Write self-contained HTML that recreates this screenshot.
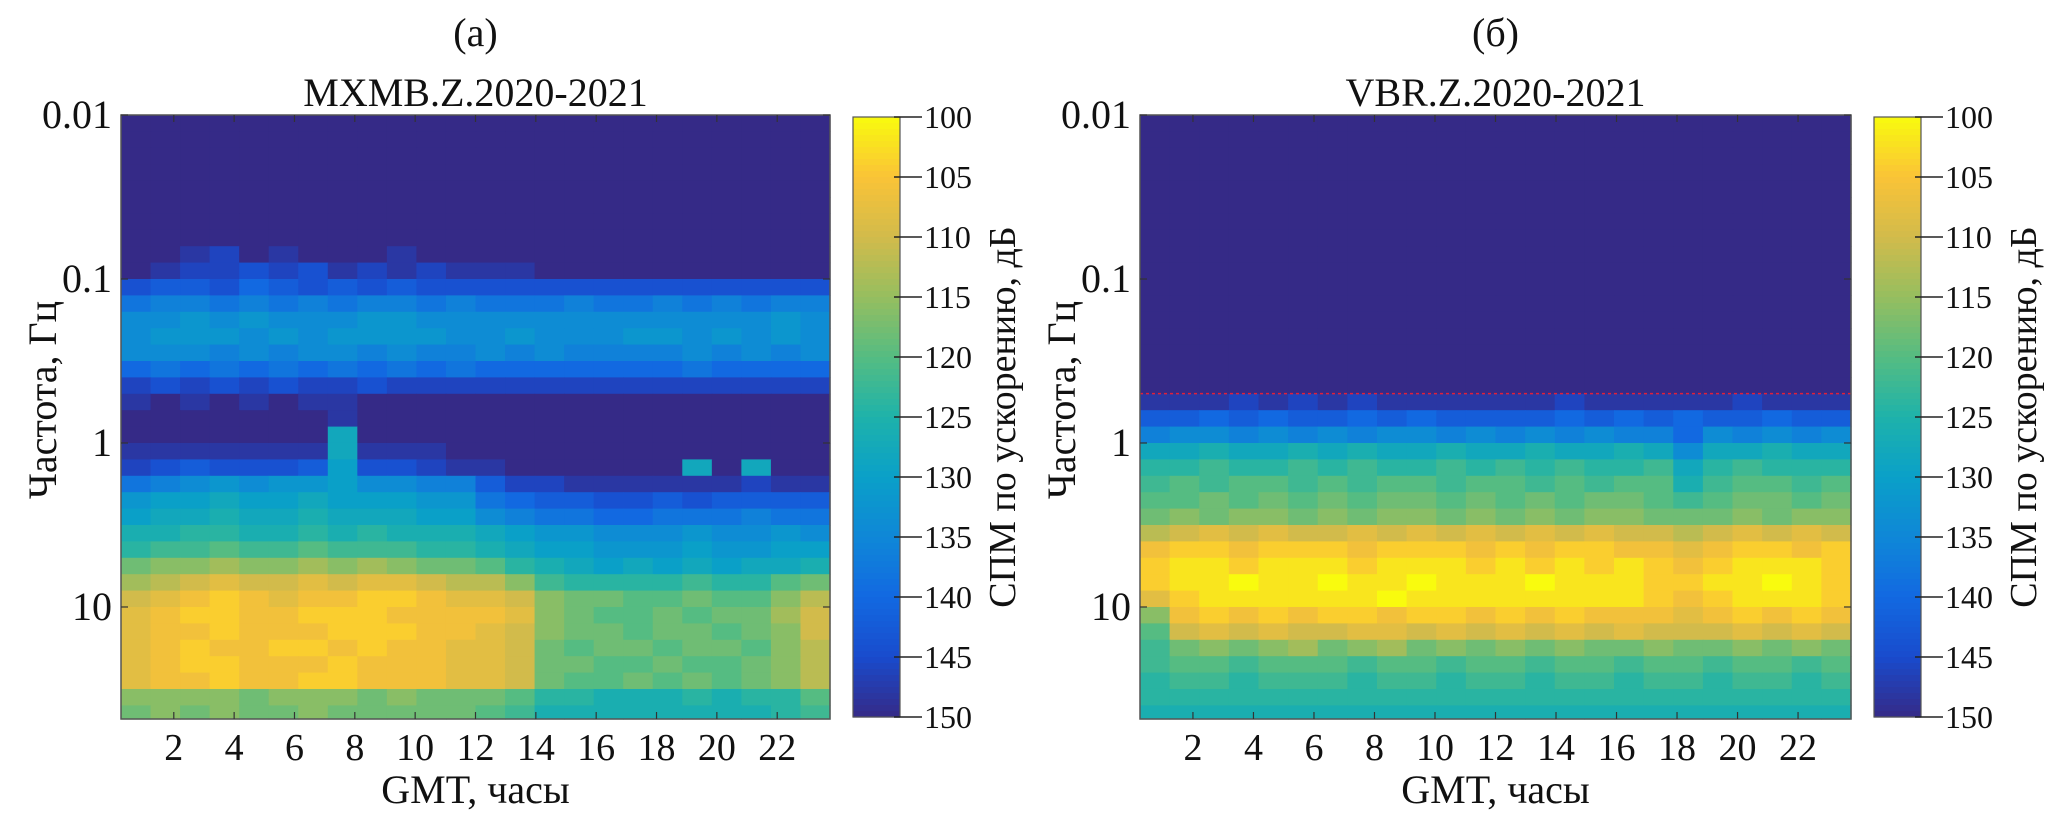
<!DOCTYPE html>
<html><head><meta charset="utf-8"><style>
html,body{margin:0;padding:0;background:#fff;}
svg{display:block;font-family:"Liberation Serif",serif;}
</style></head><body>
<svg id="fig" width="2055" height="827" viewBox="0 0 2055 827" xmlns="http://www.w3.org/2000/svg">
<g id="left"></g>
<g id="right"></g>
</svg>
<script>
// ---- data (dB = -150 + 2*k, k: 0-9 then A-P) ; rows top (0.01 Hz) to bottom, each row 0.1 decade; 24 hourly columns
const leftTitle = "MXMB.Z.2020-2021";
const rightTitle = "VBR.Z.2020-2021";
const xTicks = [2,4,6,8,10,12,14,16,18,20,22];
const yTicks = [0.01,0.1,1,10];
const yTickLabels = ["0.01","0.1","1","10"];
const cbTicks = [-100,-105,-110,-115,-120,-125,-130,-135,-140,-145,-150];
const redLineFreq = 0.5;
const leftRows = [
"000000 000000 000000 000000","000000 000000 000000 000000","000000 000000 000000 000000",
"000000 000000 000000 000000","000000 000000 000000 000000","000000 000000 000000 000000",
"000000 000000 000000 000000","000000 000000 000000 000000",
"001201 000100 000000 000000",
"012232 312121 110000 000000",
"344354 343433 333333 333333",
"677676 767767 666766 767677",
"889898 889988 888888 888898",
"899989 899998 898889 989898",
"888787 887877 878777 787878",
"565656 565656 555555 565555",
"232323 223222 222222 222222",
"101010 110000 000000 000000",
"000000 010000 000000 000000",
"000000 0B0000 000000 000000",
"111111 1B1110 000000 000000",
"234333 4A3321 100000 0B0B00",
"678989 9A8877 422111 111211",
"9AABAA BAAA99 654433 434444",
"ABBCBB CBBBAA 876655 666766",
"CCDDCC DCDCCC BA9988 898898",
"DEEFEE FEEEDD CBAA99 9A99AA",
"GHHIHH IHIHGG FDCBAB ABABBC",
"IJKLKK LKLLKJ JHEDDD DEDDFG",
"KLMNML MMNNML LKHGGF FGFFHJ",
"LMNNMM NNNMMM MLHGFF GFGGIK",
"LMMNMM MNNNMM LKHGGF GGFGHK",
"LMNMMN NMNMML LKGFGG FGGFHJ",
"LMNNMM MNMMML LKGGFF GFFGHJ",
"LMMNMM NNMMML LKGFFG FGFGHJ",
"HHHHGH HHGHGG GFDDCC CDCDDF",
"GHGHGG HGGGGG FECCCC CCCCDE"
];
const rightRows = [
"000000 000000 000000 000000","000000 000000 000000 000000","000000 000000 000000 000000",
"000000 000000 000000 000000","000000 000000 000000 000000","000000 000000 000000 000000",
"000000 000000 000000 000000","000000 000000 000000 000000","000000 000000 000000 000000",
"000000 000000 000000 000000","000000 000000 000000 000000","000000 000000 000000 000000",
"000000 000000 000000 000000","000000 000000 000000 000000","000000 000000 000000 000000",
"000000 000000 000000 000000","000000 000000 000000 000000",
"111212 121111 112111 112111",
"445454 454544 445454 544544",
"788787 878878 787877 587878",
"BBCBBC BCBBCB BCBBCB 8BBCBB",
"DDEDDE DEDDED EDEDDE BDEDDD",
"EFEFFE FEFFEF FEFEFF CEFFEF",
"FFGFGF GFGGFG FGFGGF EFGGFG",
"GHGHHG HGHHGH GHGHHG GGHGHH",
"JKLKLK KLKLKL KLKLKK JKLKLK",
"MNNMNN NMNNNM NMNNMM LMNNMN",
"NOONOO ONOOON ONONON MNOOON",
"NOOPOO POOPOO OPOOON NOOPON",
"LNOOOO OOPOOO OOOOON MNOOON",
"HMNMNM NNMNNM NMNMMM LMNMNM",
"FKLKLK KLLKLK LKLKLK KKLKLK",
"EGHGHI GHIGHG HGHGGH GGHGHG",
"EFFEFF FEFFEF FEFFEF FEFFEF",
"DEEDEE EDEEDE EDEEDE EDEEDE",
"DDDDDD DDDDDD DDDDDD DDDDDD",
"CCCCCC CCCCCC CCCCCC CCCCCC"
];

// ---- layout
const NS = "http://www.w3.org/2000/svg";
const AX_TOP = 115, AX_BOT = 719, X0H = 0.25, X1H = 23.75, LOGMIN = -2, LOGMAX = 1.683;
const stops = [[0,53,42,135],[0.1,25,75,205],[0.2,18,105,225],[0.3,15,135,215],[0.4,10,160,200],[0.5,30,178,170],[0.6,85,188,130],[0.7,150,190,95],[0.8,210,187,75],[0.9,250,195,55],[1,249,251,14]];
function parula(t){t=Math.max(0,Math.min(1,t));for(let i=1;i<stops.length;i++){if(t<=stops[i][0]){const a=stops[i-1],b=stops[i],u=(t-a[0])/(b[0]-a[0]);return `rgb(${Math.round(a[1]+(b[1]-a[1])*u)},${Math.round(a[2]+(b[2]-a[2])*u)},${Math.round(a[3]+(b[3]-a[3])*u)})`;}}return "rgb(249,251,14)";}
const CODES="0123456789ABCDEFGHIJKLMNOP";
function decode(ch){return -150+2*CODES.indexOf(ch);}
function mk(tag,attrs,parent){const e=document.createElementNS(NS,tag);for(const k in attrs)e.setAttribute(k,attrs[k]);parent.appendChild(e);return e;}

function panel(g, ox, ow, cbx, rows, title, letter, hasRed){
  const xs = h => ox + (h-X0H)/(X1H-X0H)*ow;
  const ys = f => AX_TOP + (Math.log10(f)-LOGMIN)/(LOGMAX-LOGMIN)*(AX_BOT-AX_TOP);
  const ysLog = l => AX_TOP + (l-LOGMIN)/(LOGMAX-LOGMIN)*(AX_BOT-AX_TOP);
  const hm = mk("g",{},g);
  
  
  rows.forEach((rs,r)=>{
    const cells = rs.replace(/\s/g,'');
    const yA = ysLog(LOGMIN+0.1*r), yB = Math.min(AX_BOT, ysLog(LOGMIN+0.1*(r+1)));
    for(let c=0;c<cells.length;c++){
      const h0 = X0H + c*(X1H-X0H)/cells.length, h1 = X0H + (c+1)*(X1H-X0H)/cells.length;
      const v = decode(cells[c]);
      const x0 = xs(h0), x1 = xs(h1);
      const rc = mk("rect",{x:x0.toFixed(2),y:yA.toFixed(2),width:(x1-x0+0.6).toFixed(2),height:(yB-yA+0.6).toFixed(2),fill:parula((v+150)/50)},hm);
      
      
    }
  });
  if(hasRed){
    const ln = mk("line",{x1:ox,x2:ox+ow,y1:ys(redLineFreq),y2:ys(redLineFreq),stroke:"#e0203a","stroke-width":1.5,"stroke-dasharray":"3,3"},g);
    
    
  }
  const box = mk("rect",{x:ox,y:AX_TOP,width:ow,height:AX_BOT-AX_TOP,fill:"none",stroke:"#555","stroke-width":1.5},g);
  
  
  xTicks.forEach(t=>{
    const x=xs(t);
    mk("line",{x1:x,x2:x,y1:AX_BOT,y2:AX_BOT-7,stroke:"#333","stroke-width":1.2},g);
    mk("line",{x1:x,x2:x,y1:AX_TOP,y2:AX_TOP+7,stroke:"#333","stroke-width":1.2},g);
    const tx = mk("text",{x:x,y:760,"font-size":38,"text-anchor":"middle",fill:"#111"},g);
    tx.textContent=String(t);
    
    
  });
  yTicks.forEach((t,i)=>{
    const y=ys(t);
    mk("line",{x1:ox,x2:ox+7,y1:y,y2:y,stroke:"#333","stroke-width":1.2},g);
    mk("line",{x1:ox+ow,x2:ox+ow-7,y1:y,y2:y,stroke:"#333","stroke-width":1.2},g);
    const tx = mk("text",{x:ox-9,y:y+13,"font-size":40,"text-anchor":"end",fill:"#111"},g);
    tx.textContent=yTickLabels[i];
    
    
  });
  const cx = ox+ow/2;
  const xl = mk("text",{x:cx,y:803,"font-size":40,"text-anchor":"middle",fill:"#111"},g);
  xl.textContent="GMT, часы";
  
  
  const yl = mk("text",{x:0,y:0,"font-size":40,"text-anchor":"middle",fill:"#111",transform:`translate(${ox-65},400) rotate(-90)`},g);
  yl.textContent="Частота, Гц";
  
  
  const ti = mk("text",{x:cx,y:106,"font-size":40,"text-anchor":"middle",fill:"#111"},g);
  ti.textContent=title;
  
  
  const le = mk("text",{x:cx,y:46,"font-size":40,"text-anchor":"middle",fill:"#111"},g);
  le.textContent=letter;
  
  
  // colorbar
  const cbTop=117, cbBot=717, cbW=47;
  const cbg = mk("g",{},g);
  
  
  const N=100;
  for(let i=0;i<N;i++){
    const y0=cbTop+(cbBot-cbTop)*i/N;
    mk("rect",{x:cbx,y:y0.toFixed(2),width:cbW,height:((cbBot-cbTop)/N+0.6).toFixed(2),fill:parula(1-(i+0.5)/N)},cbg);
  }
  mk("rect",{x:cbx,y:cbTop,width:cbW,height:cbBot-cbTop,fill:"none",stroke:"#555","stroke-width":1.2},cbg);
  const cby = v => cbTop + (-100 - v)/50*(cbBot-cbTop);
  cbTicks.forEach(v=>{
    const y=cby(v);
    mk("line",{x1:cbx+cbW-6,x2:cbx+cbW+22,y1:y,y2:y,stroke:"#222","stroke-width":1.5},cbg);
    const tx = mk("text",{x:cbx+cbW+24,y:y+11,"font-size":32,fill:"#111"},cbg);
    tx.textContent=String(v).replace('-','');
    
    
  });
  const cl = mk("text",{x:0,y:0,"font-size":38,"text-anchor":"middle",fill:"#111",transform:`translate(${cbx+162},417) rotate(-90)`},cbg);
  cl.textContent="СПМ по ускорению, дБ";
  
  
}
panel(document.getElementById('left'),121,709,853,leftRows,leftTitle,"(a)",false);
panel(document.getElementById('right'),1140,711,1874,rightRows,rightTitle,"(б)",true);
</script>
</body></html>
